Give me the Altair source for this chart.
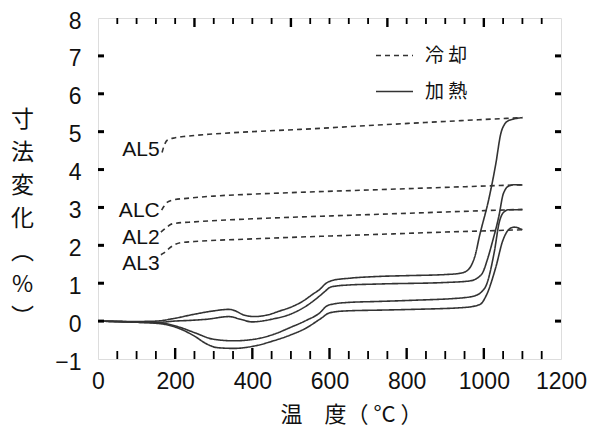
import altair as alt
import pandas as pd

# ---- data ----
AL5_HEAT_T = [0, 100, 150, 197, 249, 300, 339, 356, 378, 404, 438, 472, 498, 530, 558, 575, 590, 610, 650, 730, 800, 902, 937, 955, 968, 978, 988, 1014, 1031, 1044, 1054, 1062, 1080, 1100]
AL5_HEAT_V = [0, -0.01, 0.0, 0.07, 0.18, 0.27, 0.31, 0.27, 0.16, 0.12, 0.16, 0.27, 0.36, 0.52, 0.72, 0.84, 0.99, 1.08, 1.13, 1.18, 1.2, 1.23, 1.26, 1.32, 1.48, 1.75, 2.21, 3.27, 4.15, 4.95, 5.2, 5.28, 5.34, 5.37]

ALC_HEAT_T = [0, 100, 160, 197, 240, 283, 339, 369, 399, 455, 498, 540, 575, 590, 601, 620, 644, 730, 902, 963, 985, 997, 1010, 1023, 1040, 1049, 1056, 1062, 1080, 1100]
ALC_HEAT_V = [0, -0.02, -0.03, 0.0, 0.02, 0.05, 0.12, 0.05, -0.02, 0.06, 0.18, 0.4, 0.67, 0.8, 0.89, 0.93, 0.95, 0.98, 1.02, 1.06, 1.15, 1.28, 1.65, 2.12, 2.82, 3.31, 3.48, 3.55, 3.6, 3.59]

AL2_HEAT_T = [0, 100, 163, 214, 249, 300, 352, 404, 455, 498, 540, 575, 593, 610, 644, 730, 817, 950, 980, 995, 1006, 1027, 1040, 1052, 1065, 1100]
AL2_HEAT_V = [0, -0.03, -0.05, -0.17, -0.3, -0.48, -0.52, -0.48, -0.35, -0.17, 0.02, 0.22, 0.4, 0.45, 0.49, 0.52, 0.55, 0.62, 0.68, 0.78, 0.94, 1.82, 2.61, 2.88, 2.94, 2.94]

AL3_HEAT_T = [0, 100, 163, 214, 249, 283, 309, 352, 404, 455, 498, 540, 575, 601, 644, 730, 817, 950, 990, 1006, 1031, 1049, 1066, 1079, 1100]
AL3_HEAT_V = [0, -0.03, -0.07, -0.21, -0.39, -0.61, -0.7, -0.72, -0.66, -0.52, -0.37, -0.18, 0.05, 0.22, 0.27, 0.29, 0.31, 0.36, 0.44, 0.67, 1.42, 2.12, 2.43, 2.48, 2.41]

AL5_COOL_T = [1100, 900, 700, 524, 400, 300, 230, 200, 180, 172, 166]
AL5_COOL_V = [5.37, 5.27, 5.16, 5.06, 5.0, 4.94, 4.88, 4.84, 4.78, 4.65, 4.45]
ALC_COOL_T = [1100, 900, 700, 524, 400, 300, 230, 196, 180, 171, 165]
ALC_COOL_V = [3.6, 3.53, 3.46, 3.4, 3.35, 3.3, 3.24, 3.2, 3.14, 3.03, 2.93]
AL2_COOL_T = [1100, 900, 700, 500, 400, 250, 200, 188, 175, 163]
AL2_COOL_V = [2.95, 2.88, 2.81, 2.74, 2.7, 2.62, 2.58, 2.55, 2.45, 2.35]
AL3_COOL_T = [1100, 900, 700, 500, 400, 250, 214, 188, 171, 163]
AL3_COOL_V = [2.41, 2.35, 2.28, 2.21, 2.17, 2.1, 2.07, 1.95, 1.8, 1.75]

LABELS = ["AL5", "ALC", "AL2", "AL3"]
LABEL_T = [160, 160, 160, 160]
LABEL_V = [4.51, 2.9, 2.19, 1.5]

MODES = ["冷却", "加熱"]
X_LABEL_TICKS = [0, 200, 400, 600, 800, 1000, 1200]
Y_LABEL_TICKS = [-1, 0, 1, 2, 3, 4, 5, 6, 7, 8]
X_MINOR = list(range(0, 1201, 50))
X_TOP_MAJOR = [250, 500, 750, 1000]

# ---- build table ----
rows = []
series = [
    ("AL5", "加熱", AL5_HEAT_T, AL5_HEAT_V), ("ALC", "加熱", ALC_HEAT_T, ALC_HEAT_V),
    ("AL2", "加熱", AL2_HEAT_T, AL2_HEAT_V), ("AL3", "加熱", AL3_HEAT_T, AL3_HEAT_V),
    ("AL5", "冷却", AL5_COOL_T, AL5_COOL_V), ("ALC", "冷却", ALC_COOL_T, ALC_COOL_V),
    ("AL2", "冷却", AL2_COOL_T, AL2_COOL_V), ("AL3", "冷却", AL3_COOL_T, AL3_COOL_V),
]
for name, mode, ts, vs in series:
    for t, v in zip(ts, vs):
        rows.append({"x": t, "y": v, "curve": name + mode, "mode": mode})
df = pd.DataFrame(rows)
lab_df = pd.DataFrame({"x": LABEL_T, "y": LABEL_V, "label": LABELS})

W, H = 463, 341
INK = "#333333"
CJK = "Noto Sans CJK JP"
LAT = "Liberation Sans"

xscale = alt.Scale(domain=[0, 1200], nice=False, zero=False)
yscale = alt.Scale(domain=[-1, 8], nice=False, zero=False)
xaxis = alt.Axis(values=X_LABEL_TICKS, format="d", ticks=False, tickSize=0, domain=False, grid=False,
                 labelFont=LAT, labelFontSize=23, labelColor="#111", labelPadding=11,
                 labelFlush=False, labelOverlap=False,
                 title="温　度（ °C ）", titleFont=CJK, titleFontSize=22, titleFontWeight="normal",
                 titleColor="#111", titleX=253, titleY=55, titleAlign="center", titleBaseline="middle")
yaxis = alt.Axis(values=Y_LABEL_TICKS, format="d", ticks=False, tickSize=0, domain=False, grid=False,
                 labelFont=LAT, labelFontSize=23, labelColor="#111", labelPadding=17,
                 labelOffset=3, labelFlush=False, labelOverlap=False,
                 title=["寸", "法", "変", "化", "︵", "%", "︶"], titleFont=CJK, titleFontSize=23,
                 titleFontWeight="normal", titleColor="#111", titleAngle=0, titleAlign="center",
                 titleBaseline="top", titleX=-76, titleY=90, titleLineHeight=33)

X = lambda: alt.X("x:Q", scale=xscale, axis=xaxis)
Y = lambda: alt.Y("y:Q", scale=yscale, axis=yaxis)

lines = alt.Chart(df).mark_line(color=INK, strokeWidth=1.6, interpolate="monotone").encode(
    x=X(), y=Y(), detail="curve:N",
    strokeDash=alt.StrokeDash("mode:N",
        scale=alt.Scale(domain=MODES, range=[[5, 4], [1, 0]]),
        legend=alt.Legend(title=None, orient="none", legendX=277, legendY=18,
                          symbolType="stroke", symbolSize=1369, symbolStrokeColor=INK,
                          symbolStrokeWidth=1.5, labelFont=CJK, labelFontSize=19,
                          labelColor="#111", labelOffset=11, rowPadding=6,
                          labelExpr="datum.label == '冷却' ? '冷 却' : '加 熱'")),
)

labels = alt.Chart(lab_df).mark_text(font=LAT, fontSize=21, align="right", baseline="middle",
                                     color="#111").encode(x=X(), y=Y(), text="label:N")

def xticks(vals, y0, y1, w):
    d = pd.DataFrame({"x": vals})
    return alt.Chart(d).mark_rule(color="black", strokeWidth=w).encode(
        x=X(), y=alt.value(y0), y2=alt.value(y1))

def yticks(vals, x0, x1, w):
    d = pd.DataFrame({"y": vals})
    return alt.Chart(d).mark_rule(color="black", strokeWidth=w).encode(
        y=Y(), x=alt.value(x0), x2=alt.value(x1))

bottom_minor = xticks([v for v in X_MINOR if v % 200 != 0 and 0 < v < 1200], H, H - 8, 1.8)
bottom_major = xticks([v for v in X_LABEL_TICKS if 0 < v < 1200], H, H - 11, 2.4)
top_minor = xticks([v for v in X_MINOR if v % 250 != 0 and 0 < v < 1200], 0, 6, 1.8)
top_major = xticks(X_TOP_MAJOR, 0, 9, 2.4)
left_t = yticks([v for v in Y_LABEL_TICKS if -1 < v < 8], 0, 6, 3)
right_t = yticks([v for v in Y_LABEL_TICKS if -1 < v < 8], W, W - 6, 3)

chart = alt.layer(lines, labels, bottom_minor, bottom_major, top_minor, top_major, left_t, right_t).properties(
    width=W, height=H,
    autosize=alt.AutoSizeParams(type="none"),
    padding={"left": 98, "top": 18, "right": 34, "bottom": 69},
).configure_view(stroke="black", strokeWidth=4).configure(background="white")

chart.save("out.html", embed_options={"renderer": "svg", "actions": False})
